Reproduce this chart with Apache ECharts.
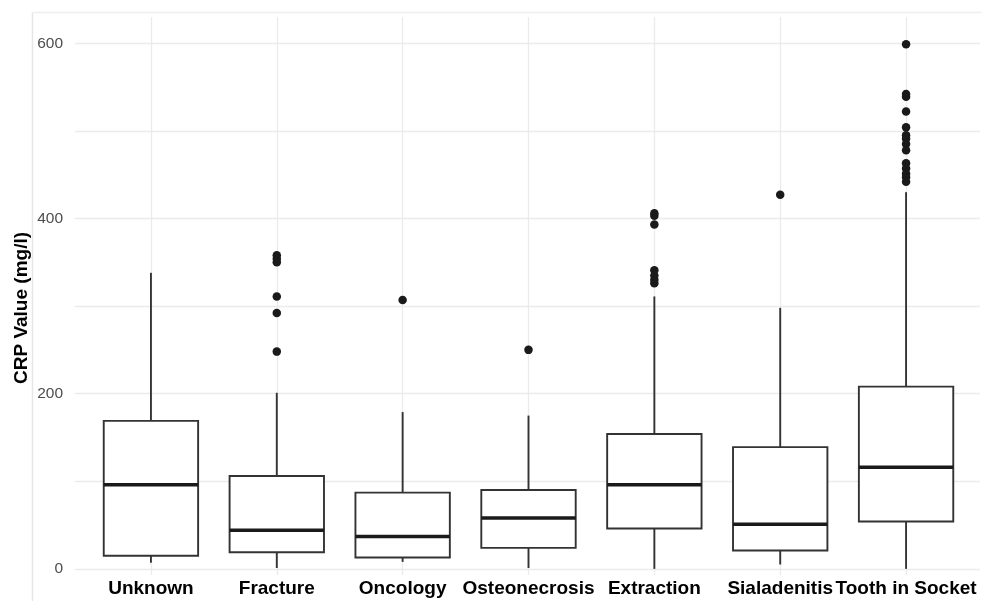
<!DOCTYPE html>
<html><head><meta charset="utf-8">
<script src="https://cdn.jsdelivr.net/npm/echarts@6/dist/echarts.min.js"></script>
<style>html,body{margin:0;padding:0;background:#fff}#c{width:982px;height:601px}</style>
</head><body><div id="c"></div>
<script>
const categories = ['Unknown', 'Fracture', 'Oncology', 'Osteonecrosis', 'Extraction', 'Sialadenitis', 'Tooth in Socket'];
const whiskerLow  = [7, 1, 8, 1, 0, 5, 0];
const q1          = [15, 19, 13, 24, 46, 21, 54];
const median      = [96, 44, 37, 58, 96, 51, 116];
const q3          = [169, 106, 87, 90, 154, 139, 208];
const whiskerHigh = [338, 201, 179, 175, 311, 298, 430];
const outliers = [
  [],
  [358, 354, 350, 311, 292, 248],
  [307],
  [250],
  [406, 403, 393, 341, 335, 330, 326],
  [427],
  [599, 542, 539, 522, 504, 495, 491, 485, 478, 463, 457, 451, 447, 442]
];
const gridValues = [0, 100, 200, 300, 400, 500, 600];
const yTickLabels = [0, 200, 400, 600];
const yTitle = 'CRP Value (mg/l)';

const chart = echarts.init(document.getElementById('c'), null, {renderer: 'canvas'});
const boxData = categories.map((c, i) => [i, whiskerLow[i], q1[i], median[i], q3[i], whiskerHigh[i]]);
const outlierData = [];
outliers.forEach((arr, i) => arr.forEach(v => outlierData.push([i, v])));
const gridLineStyle = {color: '#ebebeb', width: 1.3, type: 'solid'};
const Y_MIN = -7, Y_MAX = 630;

function renderBox(params, api) {
  const i = api.value(0);
  const pLow = api.coord([i, api.value(1)]);
  const pQ1 = api.coord([i, api.value(2)]);
  const pMed = api.coord([i, api.value(3)]);
  const pQ3 = api.coord([i, api.value(4)]);
  const pHigh = api.coord([i, api.value(5)]);
  const w = api.size([1, 0])[0] * 0.75;
  const x = pQ1[0];
  const stroke = '#333';
  return {
    type: 'group',
    children: [
      {type: 'line', shape: {x1: x, y1: pQ3[1], x2: x, y2: pHigh[1]}, style: {stroke: stroke, lineWidth: 1.9}},
      {type: 'line', shape: {x1: x, y1: pQ1[1], x2: x, y2: pLow[1]}, style: {stroke: stroke, lineWidth: 1.9}},
      {type: 'rect', shape: {x: x - w / 2, y: pQ3[1], width: w, height: pQ1[1] - pQ3[1]}, style: {fill: '#fff', stroke: stroke, lineWidth: 1.9}},
      {type: 'line', shape: {x1: x - w / 2, y1: pMed[1], x2: x + w / 2, y2: pMed[1]}, style: {stroke: '#1a1a1a', lineWidth: 3.4}}
    ]
  };
}

const option = {
  animation: false,
  backgroundColor: '#fff',
  textStyle: {fontFamily: 'Liberation Sans, Arial, sans-serif'},
  grid: [
    {left: 88, right: 13, top: 17, bottom: 26, containLabel: false},
    {left: 75, right: 2, top: 17, bottom: 26, containLabel: false}
  ],
  xAxis: [
    {
      gridIndex: 0, type: 'category', data: categories, boundaryGap: true,
      axisLine: {show: false}, axisTick: {show: false}, splitLine: {show: false},
      axisLabel: {color: '#000', fontWeight: 'bold', fontSize: 19, margin: 4, interval: 0}
    },
    {gridIndex: 1, type: 'value', min: 0, max: 1, show: false}
  ],
  yAxis: [
    {gridIndex: 0, type: 'value', min: Y_MIN, max: Y_MAX, show: false},
    {
      gridIndex: 1, type: 'value', min: Y_MIN, max: Y_MAX,
      axisLine: {show: false}, axisTick: {show: false}, splitLine: {show: false},
      axisLabel: {customValues: yTickLabels, color: '#4d4d4d', fontSize: 15.5, margin: 12}
    }
  ],
  graphic: [
    {type: 'line', shape: {x1: 32.5, y1: 12.5, x2: 32.5, y2: 601}, style: {stroke: '#e6e6e6', lineWidth: 1.5}, silent: true},
    {type: 'line', shape: {x1: 32.5, y1: 12.5, x2: 982, y2: 12.5}, style: {stroke: '#eeeeee', lineWidth: 1.5}, silent: true},
    {type: 'text', x: 22, y: 308, rotation: Math.PI / 2,
     style: {text: yTitle, fill: '#000', font: 'bold 19px Liberation Sans, Arial, sans-serif', textAlign: 'center', textVerticalAlign: 'middle'}}
  ],
  series: [
    {
      type: 'line', xAxisIndex: 1, yAxisIndex: 1, data: [[0.5, -1000]], showSymbol: false,
      lineStyle: {opacity: 0}, silent: true, z: 0,
      markLine: {
        silent: true, symbol: 'none', z: 1, animation: false,
        label: {show: false}, lineStyle: gridLineStyle, emphasis: {disabled: true},
        data: gridValues.map(v => ({yAxis: v}))
      }
    },
    {
      type: 'custom', xAxisIndex: 0, yAxisIndex: 0, data: boxData, z: 3,
      encode: {x: 0, y: [1, 2, 3, 4, 5]},
      renderItem: renderBox, clip: false,
      markLine: {
        silent: true, symbol: 'none', z: 1, animation: false,
        label: {show: false}, lineStyle: gridLineStyle, emphasis: {disabled: true},
        data: categories.map(c => ({xAxis: c}))
      }
    },
    {
      type: 'scatter', xAxisIndex: 0, yAxisIndex: 0, data: outlierData, z: 5,
      symbol: 'circle', symbolSize: 8.5, itemStyle: {color: '#1a1a1a', opacity: 1}, clip: false
    }
  ]
};
chart.setOption(option);
</script>
</body></html>
